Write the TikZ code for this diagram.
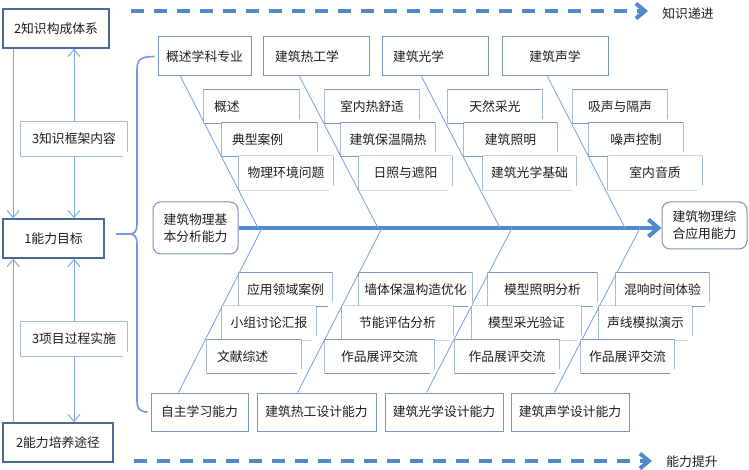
\documentclass[tikz,border=0pt]{standalone}
\usepackage{fontspec}
\setmainfont{Noto Sans CJK SC}
\usetikzlibrary{arrows.meta,calc}
\definecolor{thinblue}{RGB}{125,170,222}
\definecolor{spineblue}{RGB}{78,138,204}
\definecolor{boxline}{RGB}{118,150,196}
\definecolor{leftline}{RGB}{72,108,152}
\definecolor{roundline}{RGB}{125,145,178}
\definecolor{txt}{RGB}{30,30,30}
\tikzset{
  base/.style={draw=boxline, line width=1pt, fill=white, inner sep=0pt, align=center, text=txt},
  catbox/.style={base, minimum height=39pt},
  leftbox/.style={base, draw=leftline, line width=1.6pt, minimum height=39pt},
  endbox/.style={base, draw=roundline, line width=1pt, rounded corners=8pt},
  notebox/.style={fill=white, inner sep=0pt, minimum height=33.5pt, text=txt, align=center,
    append after command={\pgfextra{
      \draw[draw=boxline, line width=1pt, line join=miter, fill=none]
        (\tikzlastnode.north west) -- (\tikzlastnode.north east)
        -- ([yshift=5pt]\tikzlastnode.south east) -- ([xshift=-5pt]\tikzlastnode.south east)
        -- (\tikzlastnode.south west) -- cycle;
      \fill[boxline!85!black]
        ([yshift=5pt]\tikzlastnode.south east) -- ([xshift=-5pt]\tikzlastnode.south east)
        -- ([xshift=-3.8pt,yshift=3.8pt]\tikzlastnode.south east) -- cycle;
    }}},
  leftnote/.style={notebox, align=left, inner xsep=10pt},
  tip/.style={-{Straight Barb[length=7pt,width=12pt]}},
  conn/.style={draw=thinblue, line width=1pt},
  bone/.style={draw=thinblue, line width=0.9pt},
  spine/.style={draw=spineblue, line width=4pt, -{Straight Barb[length=10pt,width=17pt]}},
  dasharrow/.style={draw=spineblue, line width=4pt, dash pattern=on 13pt off 10pt,
    -{Straight Barb[length=9pt,width=15pt]}},
  brace/.style={draw=thinblue!90!blue, line width=1.6pt},
  lbl/.style={text=txt, inner sep=0pt}
}
\begin{document}
\begin{tikzpicture}[x=1pt, y=-1pt, font=\fontsize{12.8}{17}\selectfont]
\useasboundingbox (0,0) rectangle (749,470);
\fill[white] (0,0) rectangle (749,470);

% left column
\node[leftbox, minimum width=106pt] (k2) at (56,28.5) {2知识构成体系};
\node[leftbox, minimum width=101pt] (goal) at (53.5,238.5) {1能力目标};
\node[leftbox, minimum width=110pt] (pt) at (58,442.5) {2能力培养途径};
\node[notebox, minimum width=106pt, minimum height=34pt] (n3a) at (74,139) {3知识框架内容};
\node[notebox, minimum width=106pt, minimum height=34pt] (n3b) at (74,339) {3项目过程实施};

\draw[conn, tip] ([xshift=11pt]k2.south west) -- ([xshift=11pt]goal.north west);
\draw[conn, tip] (n3a.north) -- (n3a.north |- k2.south);
\draw[conn, tip] (n3a.south) -- (n3a.south |- goal.north);
\draw[conn, tip] ([xshift=11pt]pt.north west) -- ([xshift=11pt]goal.south west);
\draw[conn, tip] (n3b.north) -- (n3b.north |- goal.south);
\draw[conn, tip] (n3b.south) -- (n3b.south |- pt.north);

% fishbone heads
\node[endbox, minimum width=85pt, minimum height=52pt] (fa) at (195.5,228) {建筑物理基\\本分析能力};
\node[endbox, minimum width=85pt, minimum height=47pt] (fb) at (704.5,225.5) {建筑物理综\\合应用能力};

% top categories
\node[catbox, minimum width=93pt] (c1) at (204.5,56.5) {概述学科专业};
\node[catbox, minimum width=106pt, text width=82pt, align=left, inner xsep=12pt] (c2) at (316,56.5) {建筑热工学};
\node[catbox, minimum width=106pt, text width=84pt, align=left, inner xsep=11pt] (c3) at (435,56.5) {建筑光学};
\node[catbox, minimum width=106pt] (c4) at (555,56.5) {建筑声学};

% bottom categories
\node[catbox, minimum width=97pt, minimum height=38pt] (d1) at (199.5,412) {自主学习能力};
\node[catbox, minimum width=119pt, minimum height=38pt] (d2) at (316.5,412) {建筑热工设计能力};
\node[catbox, minimum width=118pt, minimum height=38pt] (d3) at (444,412) {建筑光学设计能力};
\node[catbox, minimum width=118pt, minimum height=38pt] (d4) at (570,412) {建筑声学设计能力};

% spine
\draw[spine] (fa.east) -- (fa.east -| fb.west);
\coordinate (s1t) at (258,228);
\coordinate (s2t) at (378,228);
\coordinate (s3t) at (500,228);
\coordinate (s4t) at (625,228);
\coordinate (s1b) at (262,228);
\coordinate (s2b) at (382,228);
\coordinate (s3b) at (512,228);
\coordinate (s4b) at (640,228);
\draw[bone] ([xshift=23pt]c1.south west) -- (s1t);
\draw[bone] ([xshift=37pt]c2.south west) -- (s2t);
\draw[bone] ([xshift=40pt]c3.south west) -- (s3t);
\draw[bone] ([xshift=46pt]c4.south west) -- (s4t);
\draw[bone] ([xshift=28pt]d1.north west) -- (s1b);
\draw[bone] ([xshift=41pt]d2.north west) -- (s2b);
\draw[bone] ([xshift=42pt]d3.north west) -- (s3b);
\draw[bone] ([xshift=44pt]d4.north west) -- (s4b);

% top notes
\node[leftnote, text width=75pt] (t11) at (251.5,106.5) {概述};
\node[leftnote, text width=75pt] (t12) at (269.5,139.5) {典型案例};
\node[notebox, minimum width=94pt] (t13) at (286,173) {物理环境问题};
\node[notebox, minimum width=94pt] (t21) at (372,106.5) {室内热舒适};
\node[notebox, minimum width=94pt] (t22) at (388,139.5) {建筑保温隔热};
\node[notebox, minimum width=93pt] (t23) at (405.5,173) {日照与遮阳};
\node[notebox, minimum width=94pt] (t31) at (495,106.5) {天然采光};
\node[notebox, minimum width=93pt] (t32) at (510.5,139.5) {建筑照明};
\node[notebox, minimum width=93pt] (t33) at (529.5,173) {建筑光学基础};
\node[notebox, minimum width=94pt] (t41) at (620,106.5) {吸声与隔声};
\node[notebox, minimum width=94pt] (t42) at (636,139.5) {噪声控制};
\node[notebox, minimum width=94pt] (t43) at (655,173) {室内音质};

% bottom notes
\node[notebox, minimum width=93pt] (b11) at (285.5,289.5) {应用领域案例};
\node[notebox, minimum width=94pt] (b12) at (269,323) {小组讨论汇报};
\node[leftnote, text width=74pt] (b13) at (254,356.5) {文献综述};
\node[notebox, minimum width=113pt] (b21) at (415.5,289.5) {墙体保温构造优化};
\node[notebox, minimum width=111pt] (b22) at (397.5,323) {节能评估分析};
\node[notebox, minimum width=109pt] (b23) at (379.5,356.5) {作品展评交流};
\node[notebox, minimum width=109pt] (b31) at (542.5,289.5) {模型照明分析};
\node[notebox, minimum width=109pt] (b32) at (526.5,323) {模型采光验证};
\node[notebox, minimum width=104pt] (b33) at (507,356.5) {作品展评交流};
\node[notebox, minimum width=93pt] (b41) at (662.5,289.5) {混响时间体验};
\node[notebox, minimum width=93pt] (b42) at (645.5,323) {声线模拟演示};
\node[notebox, minimum width=93pt] (b43) at (627.5,356.5) {作品展评交流};

% brace
\coordinate (bm) at (116,234);
\draw[brace] ([xshift=-3pt]c1.west) .. controls (140,56.5) and (137,60) .. (137,70)
  -- (137,224) .. controls (137,231) and (135,234) .. (129,234) -- (bm);
\draw[brace] (129,234) .. controls (135,234) and (137,237) .. (137,244)
  -- (137,400) .. controls (137,409) and (140,412) .. ([xshift=-3pt]d1.west);

% progress arrows
\coordinate (ta) at (131,11);
\coordinate (tb) at (648,11);
\draw[dasharrow] (ta) -- (tb);
\node[lbl] (lt) at (688,14) {知识递进};
\coordinate (ba) at (134,461);
\coordinate (bb) at (652,461);
\draw[dasharrow] (ba) -- (bb);
\node[lbl] (lb) at (692,462) {能力提升};
\end{tikzpicture}
\end{document}
